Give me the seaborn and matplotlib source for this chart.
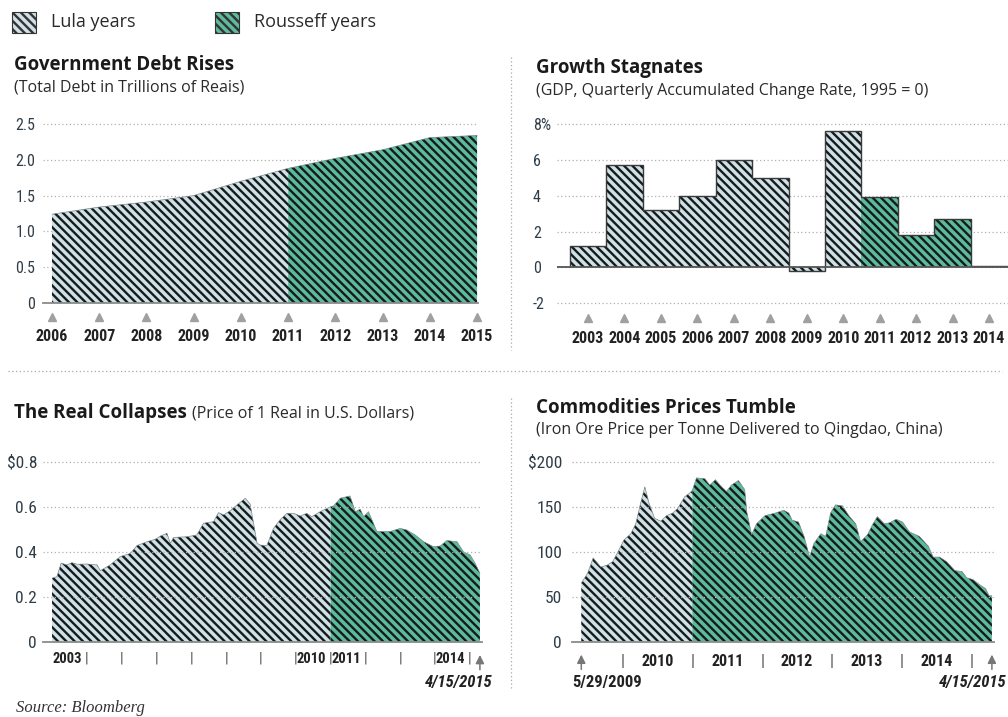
import matplotlib
matplotlib.use('Agg')
import matplotlib.pyplot as plt
import seaborn as sns
import pandas as pd
from matplotlib import font_manager
from matplotlib.patches import Rectangle
from matplotlib.lines import Line2D

# ---- data ----
debt_years = [2006, 2007, 2008, 2009, 2010, 2011, 2012, 2013, 2014, 2015]
debt_vals = [1.24, 1.34, 1.41, 1.50, 1.70, 1.88, 2.02, 2.14, 2.31, 2.34]

gdp_years = [2003, 2004, 2005, 2006, 2007, 2008, 2009, 2010, 2011, 2012, 2013, 2014]
gdp_vals = [1.2, 5.7, 3.2, 4.0, 6.0, 5.0, -0.2, 7.6, 3.9, 1.8, 2.7, 0.1]
gdp_term = ['Lula'] * 8 + ['Rousseff'] * 4

real_t = [2003.0, 2003.14, 2003.26, 2003.43, 2003.57, 2003.72, 2004.0, 2004.29, 2004.39,
          2004.67, 2004.96, 2005.25, 2005.44, 2005.73, 2005.97, 2006.11, 2006.3, 2006.4,
          2006.49, 2006.88, 2007.16, 2007.35, 2007.64, 2007.78, 2007.93, 2008.12, 2008.31,
          2008.55, 2008.69, 2008.89, 2008.98, 2009.17, 2009.36, 2009.56, 2009.75, 2009.94,
          2010.13, 2010.32, 2010.46, 2010.7, 2011.0, 2011.09, 2011.28, 2011.56, 2011.71,
          2011.85, 2011.95, 2012.09, 2012.33, 2012.71, 2013.0, 2013.19, 2013.43, 2013.67,
          2013.96, 2014.15, 2014.34, 2014.63, 2014.82, 2015.01, 2015.15, 2015.29]
real_v = [0.283, 0.29, 0.35, 0.342, 0.352, 0.345, 0.346, 0.342, 0.317,
          0.342, 0.379, 0.393, 0.428, 0.445, 0.456, 0.47, 0.482, 0.438,
          0.464, 0.467, 0.475, 0.527, 0.534, 0.574, 0.564, 0.583, 0.608,
          0.638, 0.612, 0.438, 0.43, 0.428, 0.504, 0.544, 0.571, 0.571,
          0.559, 0.571, 0.556, 0.578, 0.60, 0.604, 0.638, 0.648, 0.578,
          0.589, 0.556, 0.578, 0.49, 0.49, 0.504, 0.497, 0.475, 0.445,
          0.423, 0.426, 0.45, 0.445, 0.40, 0.386, 0.35, 0.305]

ore_t = [2009.41, 2009.5, 2009.58, 2009.69, 2009.78, 2009.86, 2009.95, 2010.02, 2010.12,
         2010.19, 2010.26, 2010.32, 2010.38, 2010.46, 2010.55, 2010.63, 2010.72, 2010.79,
         2010.89, 2010.96, 2011.0, 2011.06, 2011.18, 2011.25, 2011.33, 2011.42, 2011.49,
         2011.56, 2011.66, 2011.75, 2011.78, 2011.85, 2011.92, 2012.04, 2012.19, 2012.31,
         2012.38, 2012.43, 2012.52, 2012.6, 2012.68, 2012.74, 2012.84, 2012.91, 2012.98,
         2013.05, 2013.15, 2013.25, 2013.34, 2013.41, 2013.51, 2013.58, 2013.65, 2013.75,
         2013.82, 2013.92, 2014.01, 2014.11, 2014.25, 2014.38, 2014.45, 2014.54, 2014.64,
         2014.76, 2014.86, 2014.93, 2015.02, 2015.12, 2015.2, 2015.25, 2015.29]
ore_v = [65, 76, 93, 83, 85, 89, 102, 113, 120,
         131, 154, 172, 154, 137, 134, 140, 143, 148,
         161, 165, 168, 182, 181, 174, 180, 172, 167,
         174, 179, 169, 144, 119, 131, 140, 143, 146,
         143, 135, 133, 117, 94, 109, 120, 117, 143,
         152, 151, 139, 131, 111, 119, 130, 139, 131,
         132, 136, 133, 122, 117, 106, 94, 94, 89,
         79, 78, 71, 69, 63, 59, 51, 51]

HANDOVER = 2011.0
LULA = '#cfe0e7'
ROUSSEFF = '#5dba9c'
HATCH = '\\\\\\\\'

sns.set_style('white')
plt.rcParams['font.family'] = ['Open Sans', 'DejaVu Sans']
plt.rcParams['hatch.linewidth'] = 1.7

names = {f.name for f in font_manager.fontManager.ttflist}
COND = next((n for n in ['Roboto Condensed', 'Liberation Sans Narrow', 'DejaVu Sans Condensed']
             if n in names), None)


def cond(size, weight='normal', style='normal'):
    if COND:
        return font_manager.FontProperties(family=COND, size=size, weight=weight, style=style)
    return font_manager.FontProperties(family='DejaVu Sans', stretch='condensed',
                                       size=size, weight=weight, style=style)


W, H = 1008, 717
fig = plt.figure(figsize=(W / 100, H / 100), dpi=100)


def add_ax(l, t, r, b):
    return fig.add_axes([l / W, 1 - b / H, (r - l) / W, (b - t) / H])


def px(x, y):
    return x / W, 1 - y / H


def style_ax(ax, grid_top=False):
    sns.despine(ax=ax, left=True, top=True, right=True)
    ax.spines['bottom'].set_color('#8a8a8a')
    ax.spines['bottom'].set_linewidth(1.3)
    ax.yaxis.grid(True, linestyle=(0, (1, 2)), color='#b0b0b0', lw=0.9)
    ax.xaxis.grid(False)
    ax.set_axisbelow(not grid_top)
    ax.tick_params(length=0, colors='#2f3d48')
    ax.set_xlabel('')
    ax.set_ylabel('')


def area(ax, df):
    lula = df[df['t'] <= HANDOVER]
    rous = df[df['t'] >= HANDOVER]
    ax.fill_between(lula['t'], lula['v'], facecolor=LULA, edgecolor='#151a1a', hatch=HATCH, lw=0, zorder=1)
    ax.fill_between(rous['t'], rous['v'], facecolor=ROUSSEFF, edgecolor='#151a1a', hatch=HATCH, lw=0, zorder=1)
    sns.lineplot(x=df['t'], y=df['v'], ax=ax, color='#7c8a8a', lw=0.5, zorder=1.5)


def set_labels(ax, which, fp, color='#222'):
    labels = ax.get_xticklabels(minor=(which == 'minor')) if which in ('major', 'minor') else ax.get_yticklabels()
    for lbl in labels:
        lbl.set_fontproperties(fp)
        lbl.set_color(color)


def up_arrow(ax, x):
    tr = ax.get_xaxis_transform()
    ax.annotate('', xy=(x, -0.055), xytext=(x, -0.165), xycoords=tr, textcoords=tr,
                arrowprops=dict(arrowstyle='-|>,head_width=0.25,head_length=0.5',
                                color='#777', lw=1.1), annotation_clip=False)


# ---- Government debt ----
ax1 = add_ax(43, 120.4, 478, 303)
debt = pd.DataFrame({'t': debt_years, 'v': debt_vals})
area(ax1, debt)
style_ax(ax1)
ax1.set_xlim(2005.81, 2015.02)
ax1.set_ylim(0, 2.55)
ax1.set_yticks([0, 0.5, 1, 1.5, 2, 2.5], ['0', '0.5', '1.0', '1.5', '2.0', '2.5'])
ax1.set_xticks(debt_years, [str(y) for y in debt_years])
ax1.tick_params(axis='x', pad=19)
ax1.tick_params(axis='y', pad=5.5)
set_labels(ax1, 'major', cond(11.5, 'bold'))
set_labels(ax1, 'y', cond(11.5), '#2f3d48')
ax1.plot(debt_years, [-0.195] * len(debt_years), ls='none', marker='^', ms=6,
         color='#a0a0a0', clip_on=False)

# ---- Growth ----
ax2 = add_ax(557, 120.5, 1008, 310.3)
sns.barplot(x=[str(y) for y in gdp_years], y=gdp_vals, hue=gdp_term,
            hue_order=['Lula', 'Rousseff'], palette=[LULA, ROUSSEFF], width=1,
            dodge=False, saturation=1, edgecolor='#151a1a', linewidth=0,
            legend=False, ax=ax2, zorder=2)
for p in ax2.patches:
    p.set_hatch(HATCH)
edges = [i - 0.5 for i in range(len(gdp_vals) + 1)]
ax2.stairs(gdp_vals, edges, baseline=0, color='#3a3a3a', lw=1.0, zorder=3)
style_ax(ax2)
ax2.spines['bottom'].set_visible(False)
ax2.axhline(0, color='#555', lw=1.3, zorder=3)
ax2.set_xlim(-0.85, 11.52)
ax2.set_ylim(-2.4, 8.2)
ax2.set_yticks([-2, 0, 2, 4, 6, 8], ['-2', '0', '2', '4', '6', '8%'])
for lbl in ax2.get_yticklabels():
    lbl.set_horizontalalignment('left')
ax2.tick_params(axis='y', pad=17.3)
ax2.tick_params(axis='x', pad=15)
set_labels(ax2, 'major', cond(11.5, 'bold'))
set_labels(ax2, 'y', cond(11.5), '#2f3d48')
ax2.plot(range(len(gdp_years)), [-2.82] * len(gdp_years), ls='none', marker='^', ms=6,
         color='#a0a0a0', clip_on=False)

# ---- Real ----
ax3 = add_ax(43, 457.2, 482, 642)
real = pd.DataFrame({'t': real_t, 'v': real_v})
area(ax3, real)
style_ax(ax3, grid_top=True)
ax3.set_xlim(2002.74, 2015.35)
ax3.set_ylim(0, 0.82)
ax3.set_yticks([0, 0.2, 0.4, 0.6, 0.8], ['0', '0.2', '0.4', '0.6', '$0.8'])
real_labels = [2003, 2010, 2011, 2014]
ax3.set_xticks(list(range(2004, 2016)), ['|'] * 12)
ax3.set_xticks([y + 0.44 for y in real_labels], [str(y) for y in real_labels], minor=True)
ax3.tick_params(axis='x', which='both', length=0, pad=7)
ax3.tick_params(axis='y', pad=4.3)
set_labels(ax3, 'major', cond(11), '#555')
set_labels(ax3, 'minor', cond(10.5, 'bold'))
set_labels(ax3, 'y', cond(12.5), '#2f3d48')
up_arrow(ax3, real_t[-1])
fig.text(*px(492, 683), '4/15/2015', ha='right', va='center', fontproperties=cond(12, 'bold', 'italic'), color='#222')

# ---- Iron ore ----
ax4 = add_ax(572, 457.2, 994, 641.7)
ore = pd.DataFrame({'t': ore_t, 'v': ore_v})
area(ax4, ore)
style_ax(ax4, grid_top=True)
ax4.set_xlim(2009.277, 2015.32)
ax4.set_ylim(0, 205)
ax4.set_yticks([0, 50, 100, 150, 200], ['0', '50', '100', '150', '$200'])
ore_labels = [2010, 2011, 2012, 2013, 2014]
ax4.set_xticks(list(range(2010, 2016)), ['|'] * 6)
ax4.set_xticks([y + 0.5 for y in ore_labels], [str(y) for y in ore_labels], minor=True)
ax4.tick_params(axis='x', which='both', length=0, pad=9)
ax4.tick_params(axis='y', pad=7.2)
set_labels(ax4, 'major', cond(12), '#555')
set_labels(ax4, 'minor', cond(11.5, 'bold'))
set_labels(ax4, 'y', cond(12.5), '#2f3d48')
up_arrow(ax4, ore_t[0])
up_arrow(ax4, ore_t[-1])
fig.text(*px(572, 683), '5/29/2009', ha='left', va='center', fontproperties=cond(12, 'bold'), color='#222')
fig.text(*px(1006, 683), '4/15/2015', ha='right', va='center', fontproperties=cond(12, 'bold', 'italic'), color='#222')

# ---- titles ----
title_kw = dict(fontsize=13.5, fontweight='bold', color='#1a1a1a', va='center')
sub_kw = dict(fontsize=11.5, color='#2a2a2a', va='center')
fig.text(*px(14, 65), 'Government Debt Rises', **title_kw)
fig.text(*px(14, 88), '(Total Debt in Trillions of Reais)', **sub_kw)
fig.text(*px(536, 68), 'Growth Stagnates', **title_kw)
fig.text(*px(536, 91), '(GDP, Quarterly Accumulated Change Rate, 1995 = 0)', **sub_kw)
t3 = fig.text(*px(14, 413), 'The Real Collapses', **title_kw)
fig.text(*px(536, 408), 'Commodities Prices Tumble', **title_kw)
fig.text(*px(536, 430), '(Iron Ore Price per Tonne Delivered to Qingdao, China)', **sub_kw)
fig.canvas.draw()
bb = t3.get_window_extent()
fig.text((bb.x1 + 5) / W, 1 - 414 / H, '(Price of 1 Real in U.S. Dollars)', **sub_kw)

# ---- legend ----
for x0, lab, col in [(12, 'Lula years', LULA), (215, 'Rousseff years', ROUSSEFF)]:
    fig.add_artist(Rectangle(px(x0, 33), 24 / W, 21 / H, transform=fig.transFigure,
                             facecolor=col, edgecolor='#333', hatch=HATCH, lw=0.8))
    fig.text(*px(x0 + 39, 22), lab, fontsize=13, color='#2a2a2a', va='center')

# ---- separators ----
sep = dict(transform=fig.transFigure, ls=(0, (1, 2)), color='#a8a8a8', lw=0.9)
fig.add_artist(Line2D([511 / W] * 2, [1 - 57 / H, 1 - 350 / H], **sep))
fig.add_artist(Line2D([511 / W] * 2, [1 - 398 / H, 1 - 690 / H], **sep))
fig.add_artist(Line2D([8 / W, 1002 / W], [1 - 371 / H] * 2, **sep))

fig.text(*px(16, 708), 'Source: Bloomberg', family='Liberation Serif', style='italic',
         fontsize=12, color='#333', va='center')

fig.savefig('out.png', dpi=100)
